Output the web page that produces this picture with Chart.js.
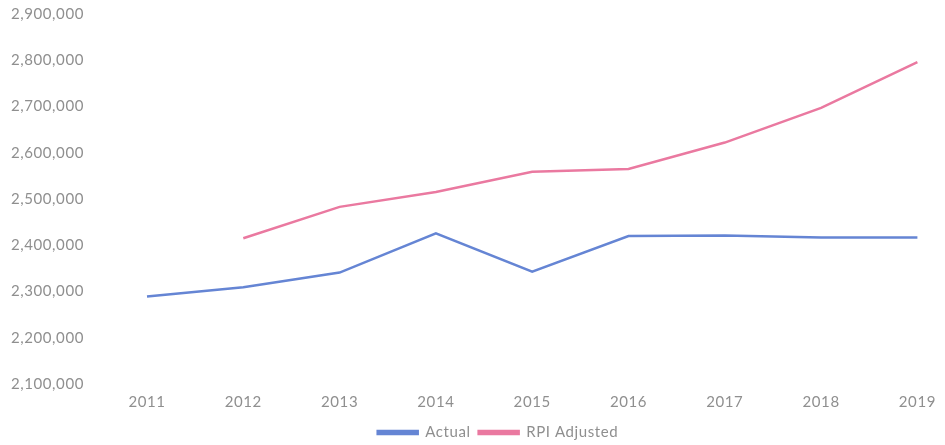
<!DOCTYPE html>
<html>
<head>
<meta charset="utf-8">
<script src="https://cdn.jsdelivr.net/npm/chart.js@4/dist/chart.umd.min.js"></script>
<style>
  html, body { margin: 0; padding: 0; background: #fff; }
  #wrap { width: 945px; height: 445px; position: relative; }
</style>
</head>
<body>
<div id="wrap"><canvas id="c" width="945" height="445"></canvas></div>
<script>
// Yearly totals, actual vs. RPI-adjusted
const years = ['2011', '2012', '2013', '2014', '2015', '2016', '2017', '2018', '2019'];
const actual = [2289000, 2309000, 2341000, 2426000, 2343000, 2420000, 2421000, 2417000, 2417000];
const rpiAdjusted = [null, 2415000, 2483000, 2515000, 2559000, 2565000, 2622000, 2697000, 2796000];
const yMin = 2100000;
const yMax = 2900000;
const yStep = 100000;

const labelColor = '#8f8f8f';
const fontFamily = 'Lato, "Open Sans", sans-serif';

// Slightly spaced-out lettering for all chart text
const letterSpacingPlugin = {
  id: 'letterSpacing',
  beforeLayout(chart) { chart.ctx.letterSpacing = '0.6px'; },
  beforeDraw(chart) { chart.ctx.letterSpacing = '0.6px'; }
};

// Nudge the legend a little right of centre and slightly lower
const legendOffsetPlugin = {
  id: 'legendOffset',
  afterLayout(chart) {
    const lg = chart.legend;
    if (!lg) return;
    lg.left += 37; lg.right += 37;
    lg.top += 5; lg.bottom += 5;
  }
};

new Chart(document.getElementById('c'), {
  type: 'line',
  plugins: [letterSpacingPlugin, legendOffsetPlugin],
  data: {
    labels: years,
    datasets: [
      {
        label: 'Actual',
        data: actual,
        borderColor: '#6585d4',
        backgroundColor: '#6585d4',
        borderWidth: 2.5,
        pointRadius: 0,
        tension: 0
      },
      {
        label: 'RPI Adjusted',
        data: rpiAdjusted,
        borderColor: '#ea79a0',
        backgroundColor: '#ea79a0',
        borderWidth: 2.5,
        pointRadius: 0,
        tension: 0
      }
    ]
  },
  options: {
    responsive: false,
    animation: false,
    layout: { padding: { left: 0, right: 23, top: 14, bottom: 0 } },
    plugins: {
      legend: {
        position: 'bottom',
        labels: {
          boxWidth: 40,
          boxHeight: 3,
          padding: 8,
          color: labelColor,
          font: { family: fontFamily, size: 15 }
        }
      },
      tooltip: { enabled: false }
    },
    scales: {
      x: {
        offset: false,
        grid: { display: false, drawTicks: false },
        border: { display: false },
        afterFit: (scale) => { scale.height = 28; },
        ticks: {
          color: labelColor,
          padding: 9,
          maxRotation: 0,
          font: { family: fontFamily, size: 15 }
        }
      },
      y: {
        min: yMin,
        max: yMax,
        grid: { display: false, drawTicks: false },
        border: { display: false },
        afterFit: (scale) => {
          scale.width = 147;
          scale.paddingTop = 0;
          scale.paddingBottom = 0;
        },
        ticks: {
          stepSize: yStep,
          color: labelColor,
          padding: 63,
          font: { family: fontFamily, size: 15 },
          callback: (v) => v.toLocaleString('en-GB')
        }
      }
    }
  }
});
</script>
</body>
</html>
